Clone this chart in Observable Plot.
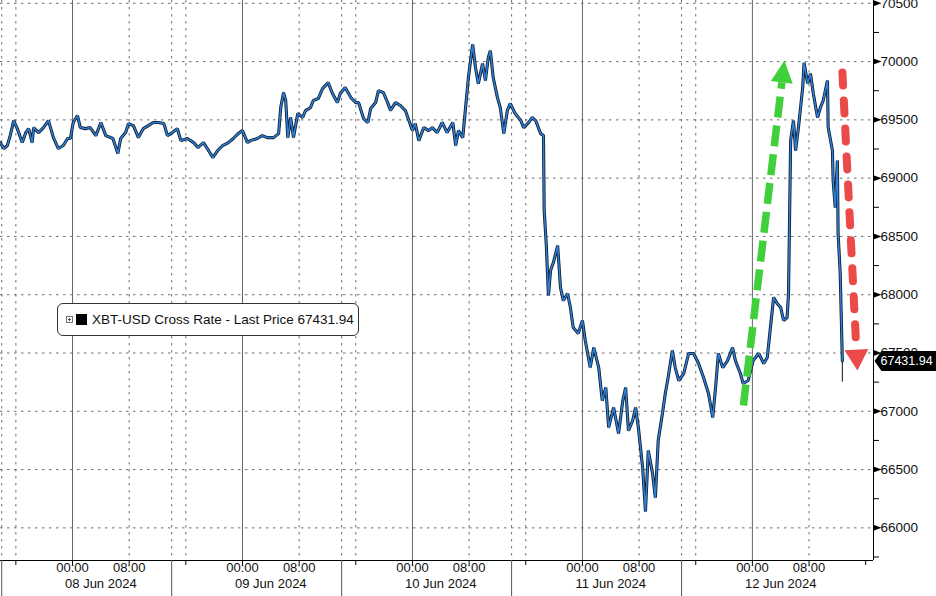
<!DOCTYPE html>
<html>
<head>
<meta charset="utf-8">
<script src="https://cdn.jsdelivr.net/npm/d3@7"></script>
<script src="https://cdn.jsdelivr.net/npm/@observablehq/plot@0.6"></script>
<style>
  html, body { margin: 0; padding: 0; background: #fff; }
  #wrap { position: relative; width: 936px; height: 596px; overflow: hidden; background: #fff; }
  #wrap svg { display: block; }
  .legend {
    position: absolute; left: 57px; top: 303px; width: 300px; height: 31px;
    border: 1px solid #333; border-radius: 6px; background: #fff;
    font-family: "Liberation Sans", Arial, sans-serif; font-size: 13.5px; color: #111;
    display: flex; align-items: center; box-sizing: content-box;
  }
  .legend .plus { margin-left: 8px; width: 7px; height: 7px; display: inline-block; }
  .legend .sq { margin-left: 3px; width: 11px; height: 11px; background: #000; display: inline-block; }
  .legend .txt { margin-left: 5px; white-space: nowrap; }
</style>
</head>
<body>
<div id="wrap"></div>
<script>
// ---- data: hours since 08 Jun 2024 00:00, price in USD ----
const hours = [
  -10.2,-9.7,-9.2,-8.8,-8.3,-7.8,-7.1,-6.6,-6.2,-5.7,-5.5,-4.8,-4.1,-3.4,-2.7,-2.0,-1.3,-0.7,-0.3,0.1,
  0.7,1.1,1.8,2.5,3.3,4.0,4.7,5.7,6.4,6.8,7.5,7.9,8.6,9.3,10.0,10.7,11.4,12.1,
  12.9,13.4,14.1,14.8,15.3,16.2,17.1,17.7,18.5,19.2,19.8,20.5,21.2,22.0,22.7,23.4,24.0,24.7,25.1,26.1,
  26.8,27.5,28.4,29.1,29.4,29.8,30.1,30.4,30.8,31.2,31.8,32.5,
  32.9,33.6,34.0,34.7,35.3,35.7,36.1,36.7,37.4,37.8,38.5,39.3,40.0,40.4,41.1,41.7,42.1,42.8,43.2,43.9,
  44.5,44.9,45.6,46.3,47.0,47.4,48.0,48.4,48.9,49.6,50.3,50.8,51.5,52.2,52.9,53.7,54.1,54.5,
  55.1,55.5,55.9,56.5,56.9,57.3,57.9,58.3,58.7,59.0,59.4,60.0,60.4,60.9,61.4,61.8,62.5,63.3,63.7,64.4,
  64.9,65.4,66.1,66.5,66.6,66.9,67.2,67.5,67.9,68.5,68.9,69.3,69.9,70.3,70.7,71.4,72.0,72.4,73.1,73.6,
  74.3,74.8,75.3,75.7,76.4,77.1,77.7,78.1,78.5,79.1,79.5,79.9,80.5,80.9,81.3,81.9,82.3,82.7,83.3,83.7,
  84.1,84.7,85.1,85.6,86.3,87.0,87.7,88.4,89.1,89.8,90.4,90.8,91.2,
  91.8,92.5,93.2,93.6,94.3,94.7,95.4,96.1,96.9,97.6,98.1,98.5,99.0,99.5,100.0,100.4,100.9,101.1,101.4,101.8,
  102.1,102.5,103.1,103.3,103.8,104.2,104.6,105.2,105.6,106.0,106.6,106.7,107.3,107.4,107.7,108.0,108.1,108.4,108.7
];
const prices = [
  69305,69254,69280,69365,69494,69425,69305,69391,69425,69305,69434,69391,69434,69494,69348,69254,69280,69340,69340,69477,
  69537,69434,69425,69434,69365,69477,69365,69340,69211,69340,69391,69468,69451,69348,69425,69451,69477,69477,
  69468,69365,69391,69425,69322,69340,69305,69262,69305,69237,69177,69237,69280,69305,69340,69382,69408,69305,69322,69340,
  69365,69348,69348,69382,69605,69734,69666,69348,69520,69348,69554,69520,
  69580,69605,69666,69683,69768,69794,69820,69726,69648,69726,69777,69691,69648,69648,69511,69477,69597,69648,69751,69734,
  69648,69580,69648,69623,69580,69511,69408,69468,69322,69434,69408,69434,69391,69477,69391,69477,69280,69408,
  69348,69605,69863,70146,69949,69811,69983,69837,70034,70094,69863,69691,69605,69382,69580,69640,69554,69494,69434,69477,
  69520,69494,69382,69365,68722,68422,67993,68207,68276,68422,68062,67950,68010,67890,67718,67667,67779,67607,67375,67547,
  67375,67092,67204,66861,67032,66809,67092,67204,66835,66921,67032,66861,66518,66140,66664,66466,66260,66749,66981,67152,
  67290,67521,67375,67264,67324,67496,67496,67410,67290,67152,66947,67204,67496,
  67375,67435,67547,67435,67324,67238,67264,67435,67496,67410,67461,67693,67976,67924,67890,67779,67804,68010,69322,69494,
  69237,69434,69777,69990,69811,69897,69726,69520,69605,69666,69837,69434,69237,68979,68748,69151,68525,68182,67431.94
];
const lastPrice = 67431.94;
const lastLow = 67250;
const seriesName = "XBT-USD Cross Rate - Last Price";

// ---- axes ----
const xDomain = [-10.17, 113.1];
const yDomain = [65720, 70524];
const yTicks = [66000, 66500, 67000, 67500, 68000, 68500, 69000, 69500, 70000, 70500];
const yMinorTicks = [65750, 66250, 66750, 67250, 67750, 68250, 68750, 69250, 69750, 70250];
const dayStartHours = [0, 24, 48, 72, 96];
const tickHours = [-8, 0, 8, 16, 24, 32, 40, 48, 56, 64, 72, 80, 88, 96, 104, 112];
const timeLabelHours = [0, 8, 24, 32, 48, 56, 72, 80, 96, 104];
const timeLabels = ["00:00", "08:00", "00:00", "08:00", "00:00", "08:00", "00:00", "08:00", "00:00", "08:00"];
const dotGridHours = [-8, 8, 16, 32, 40, 56, 64, 80, 88, 104];
const separatorHours = [-10, 14, 38, 62, 86];
const dayLabelHours = [4, 28, 52, 76, 100];
const dayLabels = ["08 Jun 2024", "09 Jun 2024", "10 Jun 2024", "11 Jun 2024", "12 Jun 2024"];

// ---- annotation arrows (hours, price) ----
const greenArrow = {x1: 94.73, y1: 67050, x2: 100.16, y2: 69822, tipX: 100.52, tipY: 70009, angle: 6.8};
const redArrow = {x1: 108.71, y1: 69906, x2: 110.69, y2: 67521, tipX: 110.83, tipY: 67350, angle: 177.1};

const series = hours.map((h, i) => ({h, p: prices[i]}));

function headSymbol(angleDeg, w, hgt) {
  return {
    draw(ctx) {
      const a = angleDeg * Math.PI / 180;
      const dx = Math.sin(a), dy = -Math.cos(a);
      const px = Math.cos(a), py = Math.sin(a);
      ctx.moveTo(0, 0);
      ctx.lineTo(-hgt * dx + w / 2 * px, -hgt * dy + w / 2 * py);
      ctx.lineTo(-hgt * dx - w / 2 * px, -hgt * dy - w / 2 * py);
      ctx.closePath();
    }
  };
}
const tagSymbol = {
  draw(ctx) {
    ctx.moveTo(0, 0); ctx.lineTo(7, -10); ctx.lineTo(63, -10);
    ctx.lineTo(63, 10); ctx.lineTo(7, 10); ctx.closePath();
  }
};
const pointerSymbol = {
  draw(ctx) {
    ctx.moveTo(0, -3); ctx.lineTo(8, 0); ctx.lineTo(0, 3); ctx.closePath();
  }
};

const gridStyle = {stroke: "#555", strokeOpacity: 0.85, strokeDasharray: "2.5,4.5"};

const chart = Plot.plot({
  width: 936,
  height: 596,
  marginLeft: 0,
  marginRight: 63,
  marginTop: 0,
  marginBottom: 36,
  style: {fontFamily: "Liberation Sans, Arial, sans-serif", fontSize: "13.5px", background: "#fff", color: "#111", overflow: "visible"},
  x: {domain: xDomain, axis: null},
  y: {domain: yDomain, axis: null},
  marks: [
    // grid
    Plot.ruleY(yTicks, {y: d => d, ...gridStyle}),
    Plot.ruleX(dotGridHours, {x: d => d, ...gridStyle}),
    Plot.ruleX(separatorHours, {x: d => d, ...gridStyle}),
    Plot.ruleX(dayStartHours, {x: d => d, stroke: "#666", strokeWidth: 1}),
    // frame lines
    Plot.ruleX([xDomain[1]], {x: d => d, stroke: "#000", strokeWidth: 1}),
    Plot.ruleY([yDomain[0]], {y: d => d, stroke: "#000", strokeWidth: 1}),
    // y axis (right)
    Plot.axisY(yTicks, {anchor: "right", tickSize: 0, tickPadding: 7, tickFormat: d => String(d), fontSize: 13.5, fill: "#111"}),
    Plot.axisY(yMinorTicks, {anchor: "right", tickSize: 5, tickFormat: () => "", stroke: "#000"}),
    Plot.dot(yTicks, {y: d => d, frameAnchor: "right", symbol: pointerSymbol, fill: "#000", stroke: "none"}),
    // x axis
    Plot.axisX(tickHours, {anchor: "bottom", tickSize: 5, tickFormat: () => "", stroke: "#000"}),
    Plot.axisX(separatorHours, {anchor: "bottom", tickSize: 36, tickFormat: () => "", stroke: "#555"}),
    Plot.text(timeLabelHours, {x: d => d, text: (d, i) => timeLabels[i], frameAnchor: "bottom", dy: 11, fontSize: 13, fill: "#111"}),
    Plot.text(dayLabelHours, {x: d => d, text: (d, i) => dayLabels[i], frameAnchor: "bottom", dy: 27, fontSize: 13, fill: "#111"}),
    // price series (candle look: dark outline + blue body)
    Plot.ruleX([hours[hours.length - 1]], {x: d => d, y1: lastLow, y2: lastPrice, stroke: "#111", strokeWidth: 1}),
    Plot.line(series, {x: "h", y: "p", stroke: "#0d1a2a", strokeWidth: 3.1, strokeLinejoin: "miter"}),
    Plot.line(series, {x: "h", y: "p", stroke: "#2f80d8", strokeWidth: 1.5}),
    // annotation arrows
    Plot.link([greenArrow], {x1: "x1", y1: "y1", x2: "x2", y2: "y2", stroke: "#3fd03c", strokeWidth: 7.5, strokeDasharray: "21,8"}),
    Plot.dot([greenArrow], {x: "tipX", y: "tipY", symbol: headSymbol(greenArrow.angle, 22, 22), fill: "#3fd03c", stroke: "none"}),
    Plot.link([redArrow], {x1: "x1", y1: "y1", x2: "x2", y2: "y2", stroke: "#ea4a48", strokeWidth: 8, strokeDasharray: "13,15", strokeLinecap: "round"}),
    Plot.dot([redArrow], {x: "tipX", y: "tipY", symbol: headSymbol(redArrow.angle, 24, 21), fill: "#ea4a48", stroke: "none"}),
    // last price tag
    Plot.dot([lastPrice], {y: d => d, frameAnchor: "right", dx: 1, symbol: tagSymbol, fill: "#000", stroke: "none"}),
    Plot.text([lastPrice], {y: d => d, frameAnchor: "right", dx: 7, textAnchor: "start", text: d => d.toFixed(2), fill: "#fff", fontSize: 12.5})
  ]
});

const wrap = document.getElementById("wrap");
wrap.appendChild(chart);

const legend = document.createElement("div");
legend.className = "legend";
legend.innerHTML =
  '<svg class="plus" width="7" height="7" viewBox="0 0 7 7"><rect x="0.5" y="0.5" width="6" height="6" fill="#fff" stroke="#777"/><path d="M2 3.5H5M3.5 2V5" stroke="#555" stroke-width="1"/></svg>' +
  '<span class="sq"></span><span class="txt">' + seriesName + ' ' + lastPrice.toFixed(2) + '</span>';
wrap.appendChild(legend);
</script>
</body>
</html>
